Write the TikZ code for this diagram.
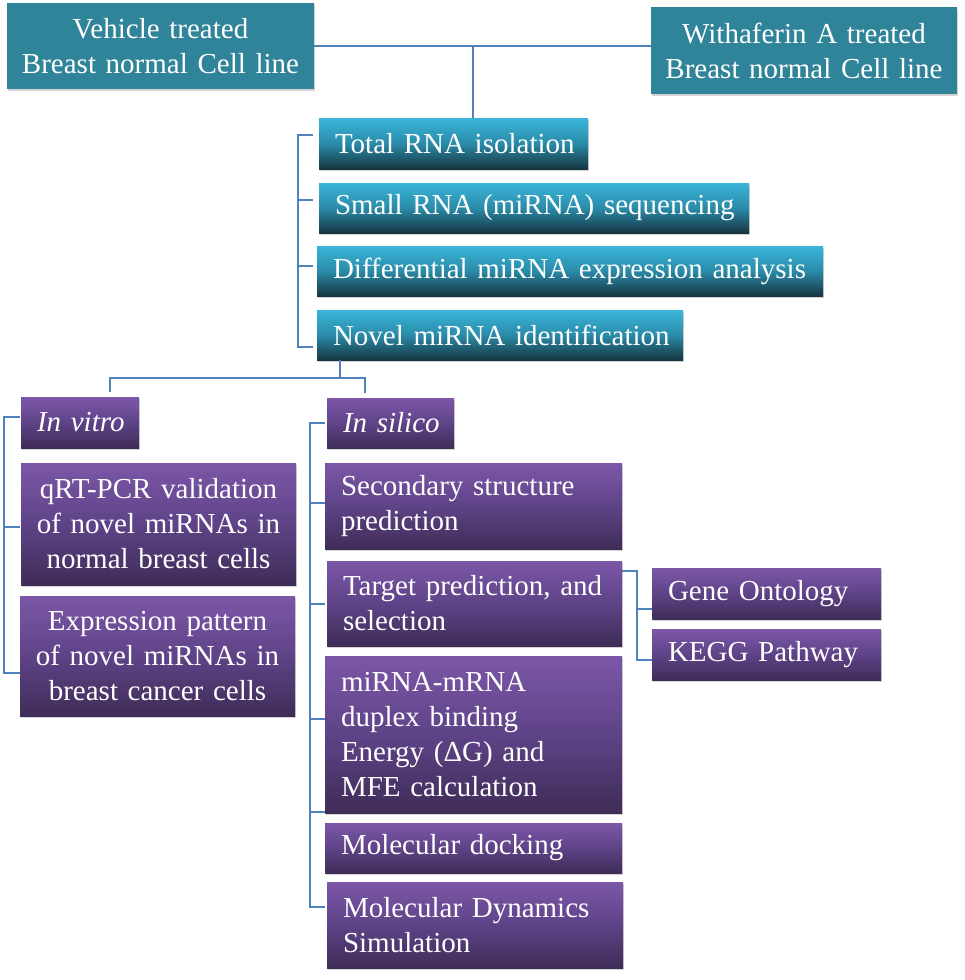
\documentclass[tikz,border=0pt]{standalone}
\usepackage{fontspec}
\setmainfont{Liberation Serif}
\usetikzlibrary{calc,shadows}
\definecolor{flatteal}{HTML}{2F8499}
\definecolor{tealtop}{HTML}{3AB5DA}
\definecolor{tealmid}{HTML}{2A8BA8}
\definecolor{tealbot}{HTML}{163541}
\definecolor{purptop}{HTML}{7C57A8}
\definecolor{purpmid}{HTML}{5E4387}
\definecolor{purpbot}{HTML}{3F2C57}
\definecolor{conncol}{HTML}{4F81BD}
\begin{document}
\begin{tikzpicture}[x=1pt,y=-1pt,
  base/.style={anchor=north west, inner ysep=2pt, outer sep=0pt, text=white,
    font=\fontsize{29}{35}\selectfont,
    drop shadow={shadow xshift=1.2pt, shadow yshift=-2.2pt, opacity=0.35}},
  flatbox/.style={base, fill=flatteal, align=center, inner xsep=4pt},
  tealbox/.style={base, top color=tealtop, bottom color=tealbot, middle color=tealmid, align=left, inner xsep=16pt},
  purpL/.style={base, top color=purptop, bottom color=purpbot, middle color=purpmid, align=left, inner xsep=16pt},
  purpC/.style={base, top color=purptop, bottom color=purpbot, middle color=purpmid, align=center, inner xsep=4pt},
  conn/.style={draw=conncol, line width=1.5pt}]
\useasboundingbox (0,0) rectangle (964,980);

% top boxes
\node[flatbox, minimum width=307pt, minimum height=86pt, text width=299pt] (veh) at (7,3) {\mbox{Vehicle treated}\\\mbox{Breast normal Cell line}};
\node[flatbox, minimum width=306pt, minimum height=87pt, text width=298pt] (wfa) at (651,7) {\mbox{Withaferin A treated}\\\mbox{Breast normal Cell line}};

% teal steps
\node[tealbox, minimum width=269pt, minimum height=51pt, text width=237pt] (total) at (319,118) {\mbox{Total RNA isolation}};
\node[tealbox, minimum width=430pt, minimum height=50pt, text width=398pt] (small) at (319,183) {\mbox{Small RNA (miRNA) sequencing}};
\node[tealbox, minimum width=506pt, minimum height=50pt, text width=474pt] (diff) at (317,246) {\mbox{Differential miRNA expression analysis}};
\node[tealbox, minimum width=366pt, minimum height=50pt, text width=334pt] (novel) at (317,310) {\mbox{Novel miRNA identification}};

% in vitro
\node[purpL, minimum width=118pt, minimum height=51pt, text width=86pt] (vitro) at (21,397) {\mbox{\itshape In vitro}};
\node[purpC, minimum width=275pt, minimum height=122pt, text width=267pt] (qrt) at (21,463) {\mbox{qRT-PCR validation}\\\mbox{of novel miRNAs in}\\\mbox{normal breast cells}};
\node[purpC, minimum width=275pt, minimum height=120pt, text width=267pt] (expr) at (20,596) {\mbox{Expression pattern}\\\mbox{of novel miRNAs in}\\\mbox{breast cancer cells}};

% in silico
\node[purpL, minimum width=127pt, minimum height=50pt, text width=95pt] (silico) at (327,398) {\mbox{\itshape In silico}};
\node[purpL, minimum width=297pt, minimum height=86pt, text width=265pt] (sec) at (325,463) {\mbox{Secondary structure}\\\mbox{prediction}};
\node[purpL, minimum width=295pt, minimum height=85pt, text width=263pt] (target) at (327,561) {\mbox{Target prediction, and}\\\mbox{selection}};
\node[purpL, minimum width=297pt, minimum height=157pt, text width=265pt] (mirna) at (325,656) {\mbox{miRNA-mRNA}\\\mbox{duplex binding}\\\mbox{Energy (ΔG) and}\\\mbox{MFE calculation}};
\node[purpL, minimum width=297pt, minimum height=50pt, text width=265pt] (dock) at (325,823) {\mbox{Molecular docking}};
\node[purpL, minimum width=296pt, minimum height=86pt, text width=264pt] (mds) at (327,882) {\mbox{Molecular Dynamics}\\\mbox{Simulation}};

\node[purpL, minimum width=229pt, minimum height=51pt, text width=197pt] (gene) at (652,568) {\mbox{Gene Ontology}};
\node[purpL, minimum width=229pt, minimum height=51pt, text width=197pt] (kegg) at (652,629) {\mbox{KEGG Pathway}};

% connectors
\draw[conn] (veh.east) -- (veh.east -| wfa.west);
\coordinate (j1) at (473,46);
\draw[conn] (j1) -- (j1 |- total.north);

\draw[conn] ($(total.north west)+(-6,17)$) -| ($(novel.north west)+(-19,37)$) -- ($(novel.north west)+(-4,37)$);
\draw[conn] ($(small.north west)+(-21,17)$) -- ++(15,0);
\draw[conn] ($(diff.north west)+(-19,20)$) -- ++(15,0);

\draw[conn] ($(novel.south west)+(23,0)$) -- ++(0,18);
\draw[conn] ($(vitro.north west)+(89,-5)$) |- ($(silico.north west)+(38,-20)$) -- ++(0,15);

\draw[conn] ($(vitro.north west)+(-1,20)$) -| ($(expr.north west)+(-16,77)$) -- ++(16,0);
\draw[conn] ($(qrt.north west)+(-17,64)$) -- ++(16,0);

\draw[conn] ($(silico.north west)+(-2,25)$) -| ($(mds.north west)+(-17,25)$) -- ++(15,0);
\draw[conn] ($(sec.north west)+(-15,40)$) -- ++(15,0);
\draw[conn] ($(target.north west)+(-17,43)$) -- ++(15,0);
\draw[conn] ($(mirna.north west)+(-15,63)$) -- ++(15,0);
\draw[conn] ($(dock.north west)+(-15,-11)$) -- ++(15,0);

\draw[conn] ($(target.north east)+(0,10)$) -- ++(15,0) |- ($(kegg.north west)+(0,31)$);
\draw[conn] ($(gene.north west)+(-15,41)$) -- ++(15,0);
\end{tikzpicture}
\end{document}
